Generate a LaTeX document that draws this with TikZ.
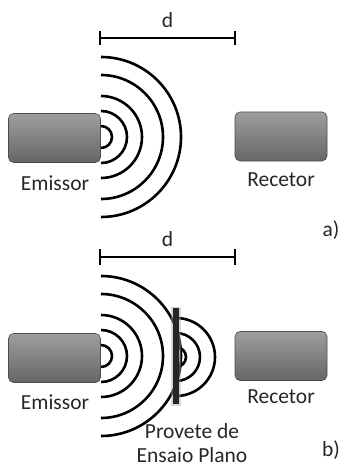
\documentclass[tikz,border=0pt]{standalone}
\usepackage{fontspec}
\setmainfont{Carlito}
\begin{document}
\begin{tikzpicture}[x=1pt,y=-1pt,
  device/.style={draw=black!70, line width=0.6pt, rounded corners=5pt,
    top color=black!38, bottom color=black!60,
    minimum width=92pt, minimum height=49pt, inner sep=0pt},
  wave/.style={line width=2.6pt},
  dimbar/.style={line width=2.8pt},
  plate/.style={fill=black!85, draw=none, minimum width=6pt, minimum height=96pt, inner sep=0pt},
  plateglow/.style={fill=black!35, opacity=0.45, draw=none, minimum width=10pt, minimum height=99pt, inner sep=0pt},
  lbl/.style={font=\fontsize{21.5}{24}\selectfont, text=black!85, inner sep=0pt, align=center}
]
\useasboundingbox (0,0) rectangle (340,468);

% ---------- a) emitter alone ----------
\coordinate (dA1) at (100,38);
\coordinate (dB1) at (235,38);
\draw[dimbar] (dA1) -- (dB1);
\draw[dimbar] (dA1) ++(0,-7) -- ++(0,14);
\draw[dimbar] (dB1) ++(0,-7) -- ++(0,14);
\node[lbl] (d1) at (167.5,20) {d};

\node[device] (em1) at (54.5,138) {};
\node[device] (rx1) at (281,136.5) {};
\coordinate (src1) at (101,137);
\foreach \r in {11,26,41,62,80}
  \draw[wave] (src1) ++(0,\r) arc[start angle=90, end angle=-90, radius=\r];

\node[lbl] (em1lbl) at (55,183) {Emissor};
\node[lbl] (rx1lbl) at (281,180) {Recetor};
\node[lbl] (tagA) at (331,230) {a)};

% ---------- b) with flat test specimen ----------
\coordinate (dA2) at (100,257);
\coordinate (dB2) at (235,257);
\draw[dimbar] (dA2) -- (dB2);
\draw[dimbar] (dA2) ++(0,-8) -- ++(0,16);
\draw[dimbar] (dB2) ++(0,-8) -- ++(0,16);
\node[lbl] (d2) at (167.5,239) {d};

\node[device] (em2) at (54.5,358) {};
\node[device] (rx2) at (281,356) {};
\coordinate (src2) at (101,356);
\foreach \r in {11,26,41,62,80}
  \draw[wave] (src2) ++(0,\r) arc[start angle=90, end angle=-90, radius=\r];

\coordinate (src3) at (176,357);
\foreach \r in {10,24,39}
  \draw[wave] (src3) ++(0,\r) arc[start angle=90, end angle=-90, radius=\r];

\node[plateglow] (glow) at (176,356) {};
\node[plate] (plate) at (176,356) {};

\node[lbl] (em2lbl) at (55,402) {Emissor};
\node[lbl] (rx2lbl) at (281,397) {Recetor};
\node[lbl] (spec) at (192,443) {Provete de\\Ensaio Plano};
\node[lbl] (tagB) at (331,450) {b)};
\end{tikzpicture}
\end{document}
